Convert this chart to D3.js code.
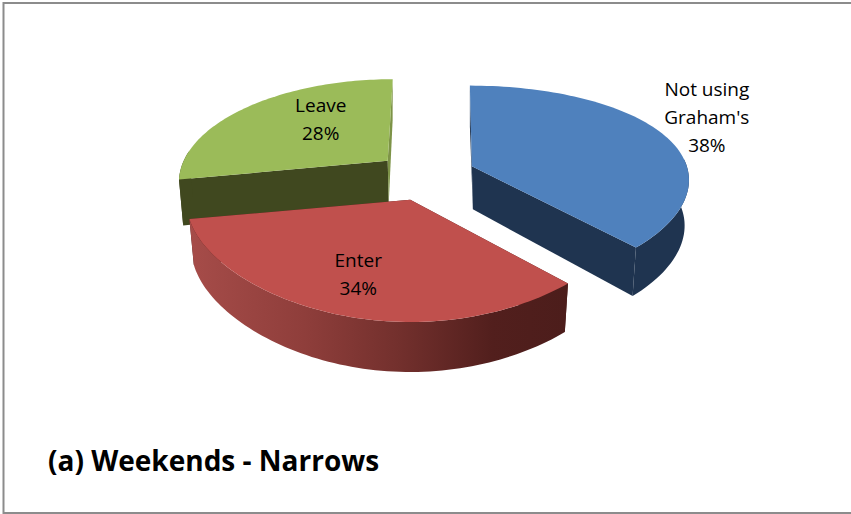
<!DOCTYPE html>
<html><head><meta charset="utf-8">
<script src="https://cdn.jsdelivr.net/npm/d3@7"></script>
<style>html,body{margin:0;padding:0;background:#fff;overflow:hidden}svg{display:block}</style>
</head><body><div id="c"></div>
<script>
const categories = ["Not using Graham's", "Enter", "Leave"];
const percentages = [38, 34, 28];
const labelLines = [["Not using", "Graham's"], ["Enter"], ["Leave"]];
const topColors = ["#4f81bd", "#c0504d", "#9bbb59"];
const startWallColors = ["#1f3450", "#4c1d1b", "#40481f"];
const endWallColors = ["#1f3450", "#4c1d1b", "#7d9347"];
const outerColors = ["#1f3450", "url(#redRim)", "#40481f"];

// 3D layout of each wedge
const explode = [59, 38, 38];
const liftX = [0, 5, 0];
const liftY = [4, 1, 0];
const sliceRx = [215, 223, 204];
const slicePx = [0.13, 0.044, 0.19];
const sliceRy = [0.97, 1, 0.98];
const lean = [-2, 0, 5];
const labelOffsets = [[235, -48], [-52, 75], [-67, -41]];

const W = 851, H = 514;
const C = {x: 417, y: 176}, Ry = 99, persp = 0.19, squash = 0.63, depth = 45, shrink = 0.98;

const svg = d3.select("#c").append("svg").attr("width", W).attr("height", H);
svg.append("path").attr("d", `M${W},3H3.5V513H${W}`).attr("fill", "none").attr("stroke", "#8c8c8c").attr("stroke-width", 2);

const grad = svg.append("defs").append("linearGradient").attr("id", "redRim")
  .attr("gradientUnits", "userSpaceOnUse").attr("x1", 190).attr("x2", 568).attr("y1", 0).attr("y2", 0);
[[0, "#a64c49"], [0.3, "#8f3e3b"], [0.55, "#73302d"], [0.8, "#521f1d"], [1, "#4c1d1b"]]
  .forEach(([o, c]) => grad.append("stop").attr("offset", o).attr("stop-color", c));

const pie = d3.pie().sort(null).startAngle(0).endAngle(2 * Math.PI);
const arcs = pie(percentages);
const line = d3.line();

function apex(i) {
  const m = (arcs[i].startAngle + arcs[i].endAngle) / 2;
  return [C.x + explode[i] * Math.sin(m) + liftX[i], C.y - explode[i] * Math.cos(m) * squash + liftY[i]];
}
function rim(i, a, t) {
  const c = Math.cos(t), s = Math.sin(t);
  return [a[0] + sliceRx[i] * s / (1 + slicePx[i] * c) + lean[i] * c,
          a[1] - Ry * sliceRy[i] * c / (1 + persp * c)];
}
function drop(a, p, t) {
  const w = 1 + persp * Math.cos(t);
  return [a[0] + (p[0] - a[0]) * shrink, p[1] + depth / Math.sqrt(w)];
}
function apexDrop(a) { return [a[0] + 1, a[1] + depth - 2]; }

function slice(i) {
  const d = arcs[i], a = apex(i), n = 80;
  const ts = d3.range(0, n + 1).map(k => d.startAngle + (d.endAngle - d.startAngle) * k / n);
  const top = ts.map(t => rim(i, a, t));
  const bot = ts.map((t, k) => drop(a, top[k], t));
  const g = svg.append("g").attr("class", "slice").datum(d);
  g.append("path").attr("d", line([top[0], a, apexDrop(a), bot[0]]) + "Z").attr("fill", startWallColors[i]);
  g.append("path").attr("d", line([top[n], a, apexDrop(a), bot[n]]) + "Z").attr("fill", endWallColors[i]);
  // only the front-facing part of the outer rim is visible
  const front = ts.map((t, k) => k).filter(k => Math.cos(ts[k]) <= 0.1);
  const bandTop = front.map(k => top[k]), bandBot = front.map(k => bot[k]).reverse();
  g.append("path").attr("d", line(bandTop.concat(bandBot)) + "Z").attr("fill", outerColors[i]);
  g.append("path").attr("d", line([a].concat(top)) + "Z").attr("fill", topColors[i]);
}
// paint back to front
[2, 0, 1].forEach(slice);

const font = '"Open Sans","Noto Sans",sans-serif';
percentages.forEach((v, i) => {
  const a = apex(i), lines = labelLines[i].concat([v + "%"]);
  const cx = a[0] + labelOffsets[i][0], cy = a[1] + labelOffsets[i][1];
  const t = svg.append("text").attr("text-anchor", "middle").attr("font-family", font).attr("font-size", 19).attr("fill", "#000");
  lines.forEach((s, k) => t.append("tspan").attr("x", cx).attr("y", cy + 6 + (k - (lines.length - 1) / 2) * 28).text(s));
});
svg.append("text").attr("x", 48).attr("y", 471).attr("font-family", font).attr("font-weight", 700)
  .attr("font-size", 28).attr("fill", "#000").text("(a) Weekends - Narrows");
</script></body></html>
